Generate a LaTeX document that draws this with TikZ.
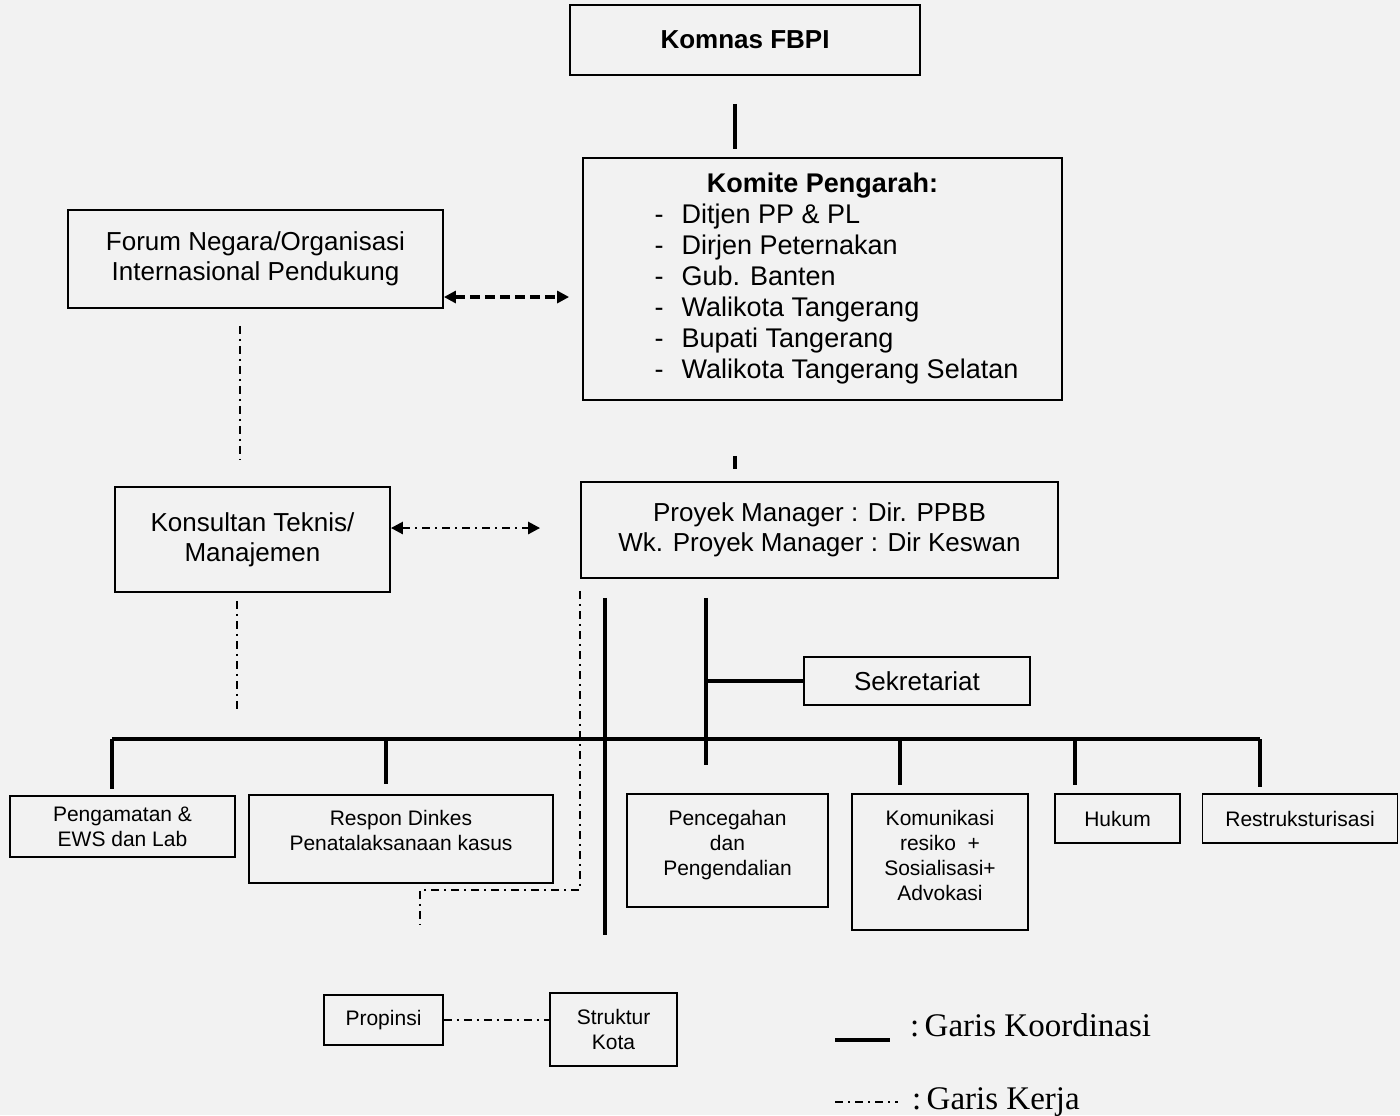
\documentclass[tikz,border=0pt]{standalone}
\usepackage{fontspec}
\setmainfont{Liberation Sans}
\newfontfamily\legendfont{Liberation Serif}
\usetikzlibrary{arrows.meta}

\begin{document}
\begin{tikzpicture}[x=0.5pt, y=-0.5pt,
    bigbox/.style ={draw, line width=0.9pt, align=center, inner sep=2pt, font=\fontsize{13}{15}\selectfont},
    unitbox/.style ={draw, line width=0.9pt, align=center, inner sep=2pt, font=\fontsize{10.5}{12.5}\selectfont},
    coordline/.style ={line width=1.8pt},
    workline/.style ={line width=1.3pt, dash pattern=on 4pt off 2.5pt on 1pt off 2.5pt},
    workarrow/.style ={line width=1.6pt, dash pattern=on 5pt off 2.5pt, {Triangle[length=6pt,width=6pt]}-{Triangle[length=6pt,width=6pt]}}]

   \fill[black!5] (0,0) rectangle (1400,1115);
   \useasboundingbox (0,0) rectangle (1400,1115);

   \node[bigbox, minimum width=175pt, minimum height=35pt] (komnas) at (745,40) {\textbf{Komnas FBPI}};
   \node[bigbox, minimum width=239.5pt, minimum height=121pt, font=\fontsize{13.5}{15.5}\selectfont] (komite) at (822.5,279) {%
      \begin{tabular}{@{\hspace{14pt}}l@{\hspace{9pt}}l@{}}
      \multicolumn{2}{@{}c@{}}{\textbf{Komite Pengarah:}}\\
      - & Ditjen PP \& PL\\
      - & Dirjen Peternakan\\
      - & Gub. Banten\\
      - & Walikota Tangerang\\
      - & Bupati Tangerang\\
      - & Walikota Tangerang Selatan
      \end{tabular}};
   \node[bigbox, minimum width=187.5pt, minimum height=49pt] (forum) at (255.5,259) {Forum Negara/Organisasi\\Internasional Pendukung};
   \node[bigbox, minimum width=137.5pt, minimum height=52.5pt] (konsultan) at (252.5,539.5) {Konsultan Teknis/\\Manajemen};
   \node[bigbox, minimum width=238.5pt, minimum height=48pt] (proyek) at (819.5,530) {Proyek Manager : Dir. PPBB\\Wk. Proyek Manager : Dir Keswan};
   \node[bigbox, minimum width=113pt, minimum height=24pt] (sekretariat) at (917,681) {Sekretariat};

   \node[unitbox, minimum width=112.5pt, minimum height=30.5pt] (pengamatan) at (122.5,826.5) {Pengamatan \&\\EWS dan Lab};
   \node[unitbox, minimum width=152pt, minimum height=44pt] (respon) at (401,839) {Respon Dinkes\\Penatalaksanaan kasus\\[-3.5pt]};
   \node[unitbox, minimum width=100.5pt, minimum height=56.5pt] (pencegahan) at (727.5,850.5) {Pencegahan\\dan\\Pengendalian\\[-5pt]};
   \node[unitbox, minimum width=88pt, minimum height=68pt] (komunikasi) at (940,862) {Komunikasi\\resiko\ \ +\\Sosialisasi+\\Advokasi\\[-6pt]};
   \node[unitbox, minimum width=62.5pt, minimum height=24.5pt] (hukum) at (1117.5,818.5) {Hukum};
   \node[unitbox, minimum width=97.5pt, minimum height=24.5pt] (restruk) at (1300,818.5) {Restruksturisasi};

   \node[unitbox, minimum width=59.5pt, minimum height=25pt] (propinsi) at (383.5,1020) {Propinsi};
   \node[unitbox, minimum width=63.5pt, minimum height=36.5pt] (struktur) at (613.5,1029.5) {Struktur\\Kota};

   \coordinate (busL) at (112,739);
   \coordinate (busR) at (1260,739);
   \coordinate (spineA) at (605,935);
   \coordinate (spineB) at (706,765);
   \coordinate (kdown) at (237,710);
   \coordinate (wkcorner) at (580,890);
   \coordinate (wkend) at (420,925);

   % garis koordinasi
   \draw[coordline, shorten <=14pt, shorten >=4pt] ([xshift=-5pt]komnas.south) to ([xshift=-5pt]komnas.south |- komite.north);
   \draw[coordline, shorten <=27.5pt, shorten >=6pt] ([xshift=-43.75pt]komite.south) to ([xshift=-43.75pt]komite.south |- proyek.north);
   \draw[coordline, shorten <=9.5pt] (spineA |- proyek.south) to (spineA);
   \draw[coordline, shorten <=9.5pt] (spineB |- proyek.south) to (spineB);
   \draw[coordline] (spineB |- sekretariat.west) to (sekretariat.west);
   \draw[coordline] (busL) to (busR);
   \draw[coordline, shorten >=3pt] (busL) to (busL |- pengamatan.north);
   \draw[coordline, shorten >=5pt] ([xshift=-7.5pt]respon.north |- busL) to ([xshift=-7.5pt]respon.north);
   \draw[coordline, shorten >=4pt] ([xshift=-20pt]komunikasi.north |- busL) to ([xshift=-20pt]komunikasi.north);
   \draw[coordline, shorten >=4pt] ([xshift=-21.25pt]hukum.north |- busL) to ([xshift=-21.25pt]hukum.north);
   \draw[coordline, shorten >=3pt] (busR) to (busR |- restruk.north);

   % garis kerja
   \draw[workarrow, shorten >=6.5pt] ([yshift=-19pt]forum.east) to ([yshift=-19pt]forum.east -| komite.west);
   \draw[workline, {Triangle[length=6pt,width=6pt]}-{Triangle[length=6pt,width=6pt]}, shorten >=20pt] ([yshift=5.75pt]konsultan.east) to ([yshift=5.75pt]konsultan.east -| proyek.west);
   \draw[workline, shorten <=8.5pt, shorten >=13.5pt] ([xshift=-7.75pt]forum.south) to ([xshift=-7.75pt]forum.south |- konsultan.north);
   \draw[workline, shorten <=4pt] (konsultan.south -| kdown) to (kdown);
   \draw[workline, shorten <=6pt] (proyek.south west) |- (wkcorner) -| (wkend);
   \draw[workline] (propinsi.east) to (propinsi.east -| struktur.west);

   % keterangan
   \coordinate (legA) at (835,1040);
   \coordinate (legB) at (890,1040);
   \coordinate (legC) at (835,1102);
   \coordinate (legD) at (898,1102);
   \draw[coordline] (legA) to (legB);
   \draw[workline] (legC) to (legD);
   \node[anchor=base west, font=\legendfont\fontsize{16.5}{19}\selectfont] (koord) at (903,1036) {:\,Garis Koordinasi};
   \node[anchor=base west, font=\legendfont\fontsize{16.5}{19}\selectfont] (kerja) at (905,1109) {:\,Garis Kerja};

 \end{tikzpicture}
\end{document}
